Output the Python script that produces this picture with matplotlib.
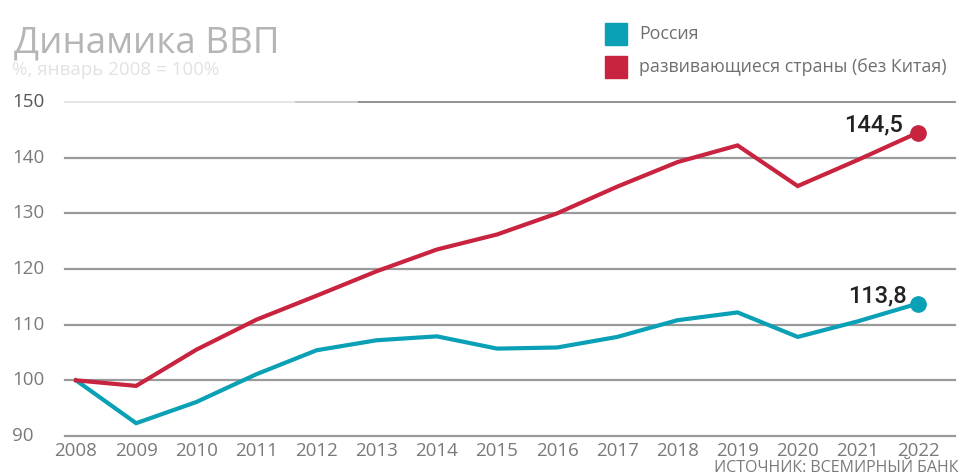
import matplotlib
matplotlib.use("Agg")
import matplotlib.pyplot as plt
import matplotlib.transforms as mtransforms
from matplotlib.patches import Rectangle

years = list(range(2008, 2023))
russia = [100, 92.3, 96.1, 101.1, 105.4, 107.2, 107.9, 105.7, 105.9, 107.8, 110.8, 112.2, 107.8, 110.6, 113.8]
developing = [100, 99.0, 105.5, 110.9, 115.2, 119.6, 123.5, 126.2, 130.0, 134.8, 139.2, 142.2, 134.9, 139.6, 144.5]
y_ticks = [90, 100, 110, 120, 130, 140, 150]
end_labels = ["113,8", "144,5"]
legend_labels = ["Россия", "развивающиеся страны (без Китая)"]
title = "Динамика ВВП"
subtitle = "%, январь 2008 = 100%"
source = "ИСТОЧНИК: ВСЕМИРНЫЙ БАНК"

BLUE = "#0aa0b6"
RED = "#c8233f"
W, H = 961, 475

fig = plt.figure(figsize=(W / 100, H / 100), dpi=100)
ax = fig.add_axes([65 / W, (H - 436) / H, 890 / W, 334 / H])
ax.set_xlim(2008 - 11 / 60.14, 2022 + 37 / 60.14)
ax.set_ylim(90, 150)
for s in ax.spines.values():
    s.set_visible(False)
ax.set_xticks([])
ax.set_yticks([])

ytrans = mtransforms.blended_transform_factory(fig.transFigure, ax.transData)
for v in y_ticks:
    if v == 150:
        ax.axhline(v, xmin=0, xmax=0.26, color="#e4e4e4", lw=1.3, zorder=1, clip_on=False)
        ax.axhline(v, xmin=0.26, xmax=0.33, color="#c4c4c4", lw=1.3, zorder=1, clip_on=False)
        ax.axhline(v, xmin=0.33, xmax=1, color="#8a8a8a", lw=1.3, zorder=1, clip_on=False)
    else:
        ax.axhline(v, color="#9a9a9a", lw=1.6, zorder=1, clip_on=False)
    ax.text(12 / W, v, str(v), transform=ytrans,
            ha="left", va="center", fontsize=13.5, color="#7a7a7a" if v != 150 else "#555555",
            family="Open Sans")

for y in years:
    ax.text(y, 89, str(y), ha="center", va="top", fontsize=13.5, color="#7a7a7a",
            family="Open Sans", clip_on=False)

ax.plot(years, russia, color=BLUE, lw=3.0, solid_joinstyle="miter", zorder=3, clip_on=False)
ax.plot(years, developing, color=RED, lw=3.0, solid_joinstyle="miter", zorder=3, clip_on=False)
ax.plot(years[-1], russia[-1], "o", ms=11, color=BLUE, zorder=4, clip_on=False)
ax.plot(years[-1], developing[-1], "o", ms=11, color=RED, zorder=4, clip_on=False)

ax.annotate(end_labels[0], (years[-1], russia[-1]), xytext=(-8, 1), textcoords="offset points",
            ha="right", va="baseline", fontsize=17, color="#222222", family="Roboto",
            fontweight="medium")
ax.annotate(end_labels[1], (years[-1], developing[-1]), xytext=(-11, 1), textcoords="offset points",
            ha="right", va="baseline", fontsize=17, color="#222222", family="Roboto",
            fontweight="medium")

# legend
for i, (lab, col) in enumerate(zip(legend_labels, [BLUE, RED])):
    ytop = 23 + i * 33
    fig.patches.append(Rectangle((605 / W, (H - ytop - 22) / H), 22 / W, 22 / H,
                                 transform=fig.transFigure, color=col))
    fig.text(639 / W, (H - ytop - 11) / H, lab, ha="left", va="center", fontsize=12.8,
             color="#6f6f6f", family="Open Sans")

fig.text(14 / W, (H - 52) / H, title, ha="left", va="baseline", fontsize=26.5,
         color="#b5b5b5", family="Open Sans")
fig.text(12 / W, (H - 75) / H, subtitle, ha="left", va="baseline", fontsize=13.5,
         color="#e2e2e2", family="Open Sans")
fig.text(958 / W, (H - 472) / H, source, ha="right", va="baseline", fontsize=11.5,
         color="#7a7a7a", family="Open Sans")

fig.savefig("out.png", dpi=100)
